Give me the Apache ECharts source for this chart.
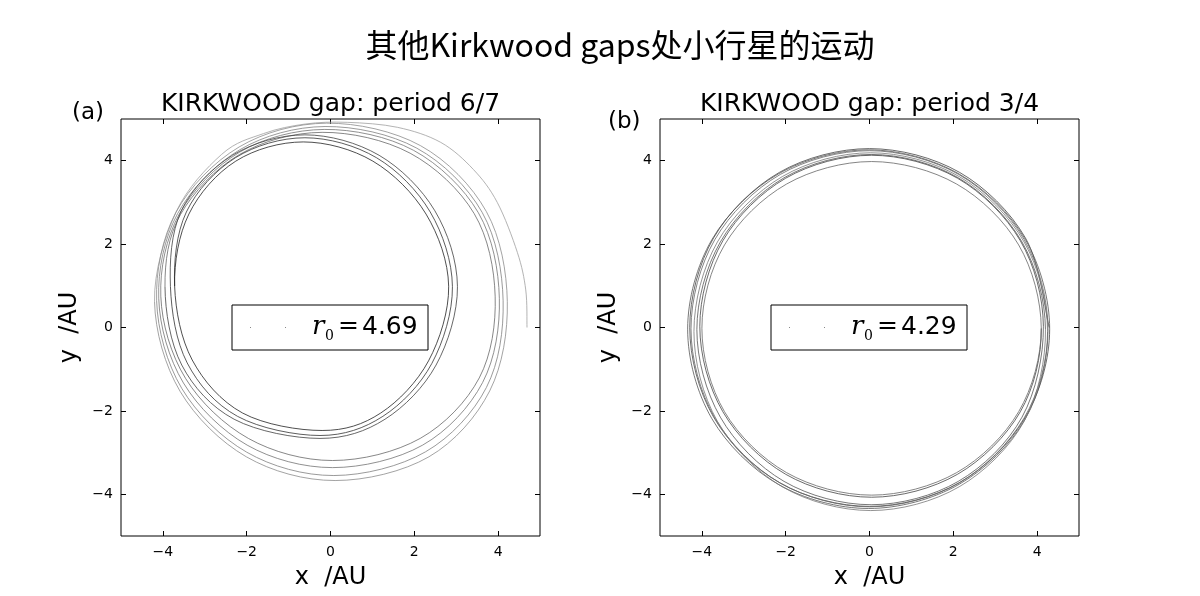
<!DOCTYPE html>
<html><head><meta charset="utf-8">
<script src="https://cdn.jsdelivr.net/npm/echarts@6/dist/echarts.min.js"></script>
<style>html,body{margin:0;padding:0;background:#fff}#c{width:1200px;height:596px}</style>
</head><body><div id="c"></div>
<script>
// ---- data ----
const tickValues = [-4, -2, 0, 2, 4];
const axisRange = [-5, 5];
const titleMain = '其他Kirkwood gaps处小行星的运动';
const panelTitles = ['KIRKWOOD gap: period 6/7', 'KIRKWOOD gap: period 3/4'];
const panelTags = ['(a)', '(b)'];
const r0Values = ['4.69', '4.29'];

// panel (a): successive revolutions of the orbit
const a_loop1 = [[4.69,0],[4.66,0.9],[4.46,1.8],[3.98,3.0],[3.41,3.79],[2.63,4.44],[1.6,4.8],[0.4,4.92],[-0.6,4.88],[-1.6,4.65],[-2.6,4.15],[-3.69,2.76]];
const a_loop2 = [[-4.20,0.62],[-3.59,-1.53],[-2.01,-3.10],[0.11,-3.67],[2.35,-3.10],[3.80,-1.52],[4.22,0.62],[3.72,2.78],[2.15,4.36],[-0.09,4.90],[-2.18,4.33],[-3.69,2.76]];
const a_loop3 = [[-4.15,0.64],[-3.55,-1.46],[-2.00,-2.99],[0.08,-3.55],[2.27,-2.98],[3.72,-1.44],[4.12,0.64],[3.62,2.76],[2.06,4.30],[-0.13,4.82],[-2.17,4.26],[-3.65,2.73]];
const a_loop4 = [[-4.10,0.70],[-3.51,-1.33],[-1.99,-2.82],[0.05,-3.36],[2.20,-2.82],[3.63,-1.32],[4.03,0.70],[3.53,2.75],[1.98,4.25],[-0.15,4.75],[-2.16,4.21],[-3.61,2.72]];
const a_loop5 = [[-4.05,0.75],[-3.46,-1.22],[-1.96,-2.66],[0.05,-3.19],[2.14,-2.66],[3.55,-1.21],[3.93,0.75],[3.43,2.73],[1.90,4.18],[-0.20,4.68],[-2.17,4.15],[-3.58,2.71]];
const a_loop6 = [[-3.95,0.98],[-3.55,-0.90],[-2.30,-2.20],[-0.25,-2.66],[1.30,-2.20],[2.52,-0.90],[3.03,0.98],[2.49,2.80],[1.16,4.13],[-0.61,4.62],[-2.34,4.13],[-3.56,2.80]];
const a_loop7 = [[-3.82,0.98],[-3.42,-0.85],[-2.22,-2.13],[-0.25,-2.59],[1.25,-2.13],[2.42,-0.86],[2.91,0.98],[2.38,2.77],[1.10,4.07],[-0.61,4.55],[-2.27,4.07],[-3.44,2.77]];
const a_loop8 = [[-3.72,0.99],[-3.30,-0.78],[-2.10,-2.05],[-0.20,-2.47],[1.20,-2.05],[2.34,-0.80],[2.82,0.99],[2.28,2.72],[1.01,3.99],[-0.65,4.45],[-2.26,3.99],[-3.38,2.72]];

// panel (b)
const b_loop1 = [[4.29,0],[3.72,2.15],[2.15,3.72],[0,4.29],[-2.15,3.72],[-3.72,2.15],[-4.29,0],[-3.72,-2.15],[-2.15,-3.72],[0,-4.29],[2.15,-3.72],[3.72,-2.15]];
const b_loop2 = [[4.30,-0.04],[3.72,2.11],[2.14,3.68],[-0.02,4.26],[-2.18,3.68],[-3.76,2.11],[-4.34,-0.04],[-3.76,-2.19],[-2.18,-3.76],[-0.02,-4.34],[2.14,-3.76],[3.72,-2.19]];
const b_loop3 = [[4.26,-0.03],[3.69,2.11],[2.13,3.67],[0,4.24],[-2.13,3.67],[-3.69,2.11],[-4.26,-0.03],[-3.69,-2.17],[-2.13,-3.73],[0,-4.30],[2.13,-3.73],[3.69,-2.17]];
const b_loop4 = [[4.25,-0.10],[3.69,2.05],[2.14,3.62],[0.03,4.19],[-2.08,3.62],[-3.63,2.05],[-4.19,-0.10],[-3.63,-2.25],[-2.08,-3.82],[0.03,-4.39],[2.14,-3.82],[3.69,-2.25]];
const b_loop5 = [[4.20,-0.05],[3.64,2.05],[2.12,3.59],[0.04,4.15],[-2.04,3.59],[-3.56,2.05],[-4.12,-0.05],[-3.56,-2.15],[-2.04,-3.69],[0.04,-4.25],[2.12,-3.69],[3.64,-2.15]];
const b_loop6 = [[4.15,0.03],[3.60,2.08],[2.10,3.58],[0.05,4.13],[-2.00,3.58],[-3.50,2.08],[-4.05,0.03],[-3.50,-2.02],[-2.00,-3.52],[0.05,-4.07],[2.10,-3.52],[3.60,-2.02]];
const b_loop7 = [[4.10,-0.02],[3.56,1.98],[2.08,3.44],[0.05,3.98],[-1.98,3.44],[-3.46,1.98],[-4.00,-0.02],[-3.46,-2.02],[-1.98,-3.48],[0.05,-4.02],[2.08,-3.48],[3.56,-2.02]];

const loopsA = [a_loop1, a_loop2, a_loop3, a_loop4, a_loop5, a_loop6, a_loop7, a_loop8];
const loopsB = [b_loop1, b_loop2, b_loop3, b_loop4, b_loop5, b_loop6, b_loop7];

// ---- layout / style ----
const grids = [
  {left: 121, top: 119, width: 419, height: 417},
  {left: 660, top: 119, width: 419, height: 417}
];
const colorsA = ['#a0a0a0', '#8c8c8c', '#808080', '#747474', '#686868', '#404040', '#333', '#222'];
const colorsB = ['#444', '#555', '#666', '#777', '#555', '#444', '#666'];
const fmt = v => v < 0 ? '\u2212' + Math.abs(v) : String(v);

const xAxes = [], yAxes = [];
grids.forEach((g, i) => {
  ['bottom', 'top'].forEach(pos => xAxes.push({
    type: 'value', gridIndex: i, position: pos, min: axisRange[0], max: axisRange[1],
    axisLine: {show: false, onZero: false}, splitLine: {show: false},
    axisTick: {show: true, inside: true, length: 5, customValues: tickValues, lineStyle: {color: '#000', width: 1}},
    axisLabel: {show: pos === 'bottom', customValues: tickValues, formatter: fmt, color: '#000',
      fontFamily: 'DejaVu Sans', fontSize: 14, margin: 9}
  }));
  ['left', 'right'].forEach(pos => yAxes.push({
    type: 'value', gridIndex: i, position: pos, min: axisRange[0], max: axisRange[1],
    axisLine: {show: false, onZero: false}, splitLine: {show: false},
    axisTick: {show: true, inside: true, length: 5, customValues: tickValues, lineStyle: {color: '#000', width: 1}},
    axisLabel: {show: pos === 'left', customValues: tickValues, formatter: fmt, color: '#000',
      fontFamily: 'DejaVu Sans', fontSize: 14, margin: 8}
  }));
});

const series = [];
function addLoops(loops, colors, gi) {
  loops.forEach((lp, k) => {
    const prev = k > 0 ? loops[k - 1][loops[k - 1].length - 1] : lp[0];
    const nxt = k + 1 < loops.length ? loops[k + 1] : lp;
    const ext = [prev].concat(lp, [nxt[0], nxt[1]]);
    series.push({
      type: 'custom', coordinateSystem: 'cartesian2d', xAxisIndex: gi * 2, yAxisIndex: gi * 2,
      data: lp, encode: {x: 0, y: 1}, silent: true, clip: true, z: 2,
      renderItem: (params, api) => {
        const i = params.dataIndex;
        const p0 = api.coord(ext[i]), p1 = api.coord(ext[i + 1]), p2 = api.coord(ext[i + 2]), p3 = api.coord(ext[i + 3]);
        return {
          type: 'bezierCurve',
          shape: {
            x1: p1[0], y1: p1[1], x2: p2[0], y2: p2[1],
            cpx1: p1[0] + (p2[0] - p0[0]) / 6, cpy1: p1[1] + (p2[1] - p0[1]) / 6,
            cpx2: p2[0] - (p3[0] - p1[0]) / 6, cpy2: p2[1] - (p3[1] - p1[1]) / 6
          },
          style: {stroke: colors[k], fill: null, lineWidth: 0.8}
        };
      }
    });
  });
}
addLoops(loopsA, colorsA, 0);
addLoops(loopsB, colorsB, 1);

const graphic = [];
graphic.push({type: 'text', x: 620, y: 45, style: {text: titleMain, font: '32px "Noto Sans CJK SC"', fill: '#000', textAlign: 'center', textVerticalAlign: 'middle'}});
grids.forEach((g, i) => {
  const cx = g.left + g.width / 2;
  graphic.push({type: 'text', x: cx, y: 104, style: {text: panelTitles[i], font: '25px "DejaVu Sans"', fill: '#000', textAlign: 'center', textVerticalAlign: 'middle'}});
  graphic.push({type: 'text', x: cx, y: 578, style: {text: 'x  /AU', font: '24px "DejaVu Sans"', fill: '#000', textAlign: 'center', textVerticalAlign: 'middle'}});
  graphic.push({type: 'text', x: g.left - 51, y: g.top + g.height / 2, rotation: Math.PI / 2,
    style: {text: 'y  /AU', font: '24px "DejaVu Sans"', fill: '#000', textAlign: 'center', textVerticalAlign: 'middle'}});
  graphic.push({type: 'text', x: i === 0 ? 72 : 608, y: i === 0 ? 113 : 122, style: {text: panelTags[i], font: '23px "DejaVu Sans"', fill: '#000', textAlign: 'left', textVerticalAlign: 'middle'}});
  // legend box
  const bx = g.left + 111, by = 305;
  graphic.push({type: 'rect', shape: {x: bx, y: by, width: 196, height: 45}, style: {fill: '#fff', stroke: '#000', lineWidth: 1}, z: 10});
  graphic.push({type: 'rect', shape: {x: bx + 18, y: by + 22, width: 1, height: 1}, style: {fill: '#888'}, z: 11});
  graphic.push({type: 'rect', shape: {x: bx + 53, y: by + 22, width: 1, height: 1}, style: {fill: '#888'}, z: 11});
  graphic.push({type: 'text', x: bx + 80, y: by + 22, style: {text: 'r', font: 'italic 26px "DejaVu Serif"', fill: '#000', textAlign: 'left', textVerticalAlign: 'middle'}, z: 11});
  graphic.push({type: 'text', x: bx + 93, y: by + 31, style: {text: '0', font: '14px "DejaVu Serif"', fill: '#000', textAlign: 'left', textVerticalAlign: 'middle'}, z: 11});
  graphic.push({type: 'text', x: bx + 106, y: by + 21, style: {text: '=', font: '25px "DejaVu Serif"', fill: '#000', textAlign: 'left', textVerticalAlign: 'middle'}, z: 11});
  graphic.push({type: 'text', x: bx + 130, y: by + 22, style: {text: r0Values[i], font: '25px "DejaVu Sans"', fill: '#000', textAlign: 'left', textVerticalAlign: 'middle'}, z: 11});
});

const chart = echarts.init(document.getElementById('c'), null, {renderer: 'canvas'});
chart.setOption({
  animation: false,
  backgroundColor: '#fff',
  grid: grids.map(g => Object.assign({show: true, borderColor: '#000', borderWidth: 1, backgroundColor: 'transparent'}, g)),
  xAxis: xAxes, yAxis: yAxes, series: series, graphic: graphic
});
</script></body></html>
